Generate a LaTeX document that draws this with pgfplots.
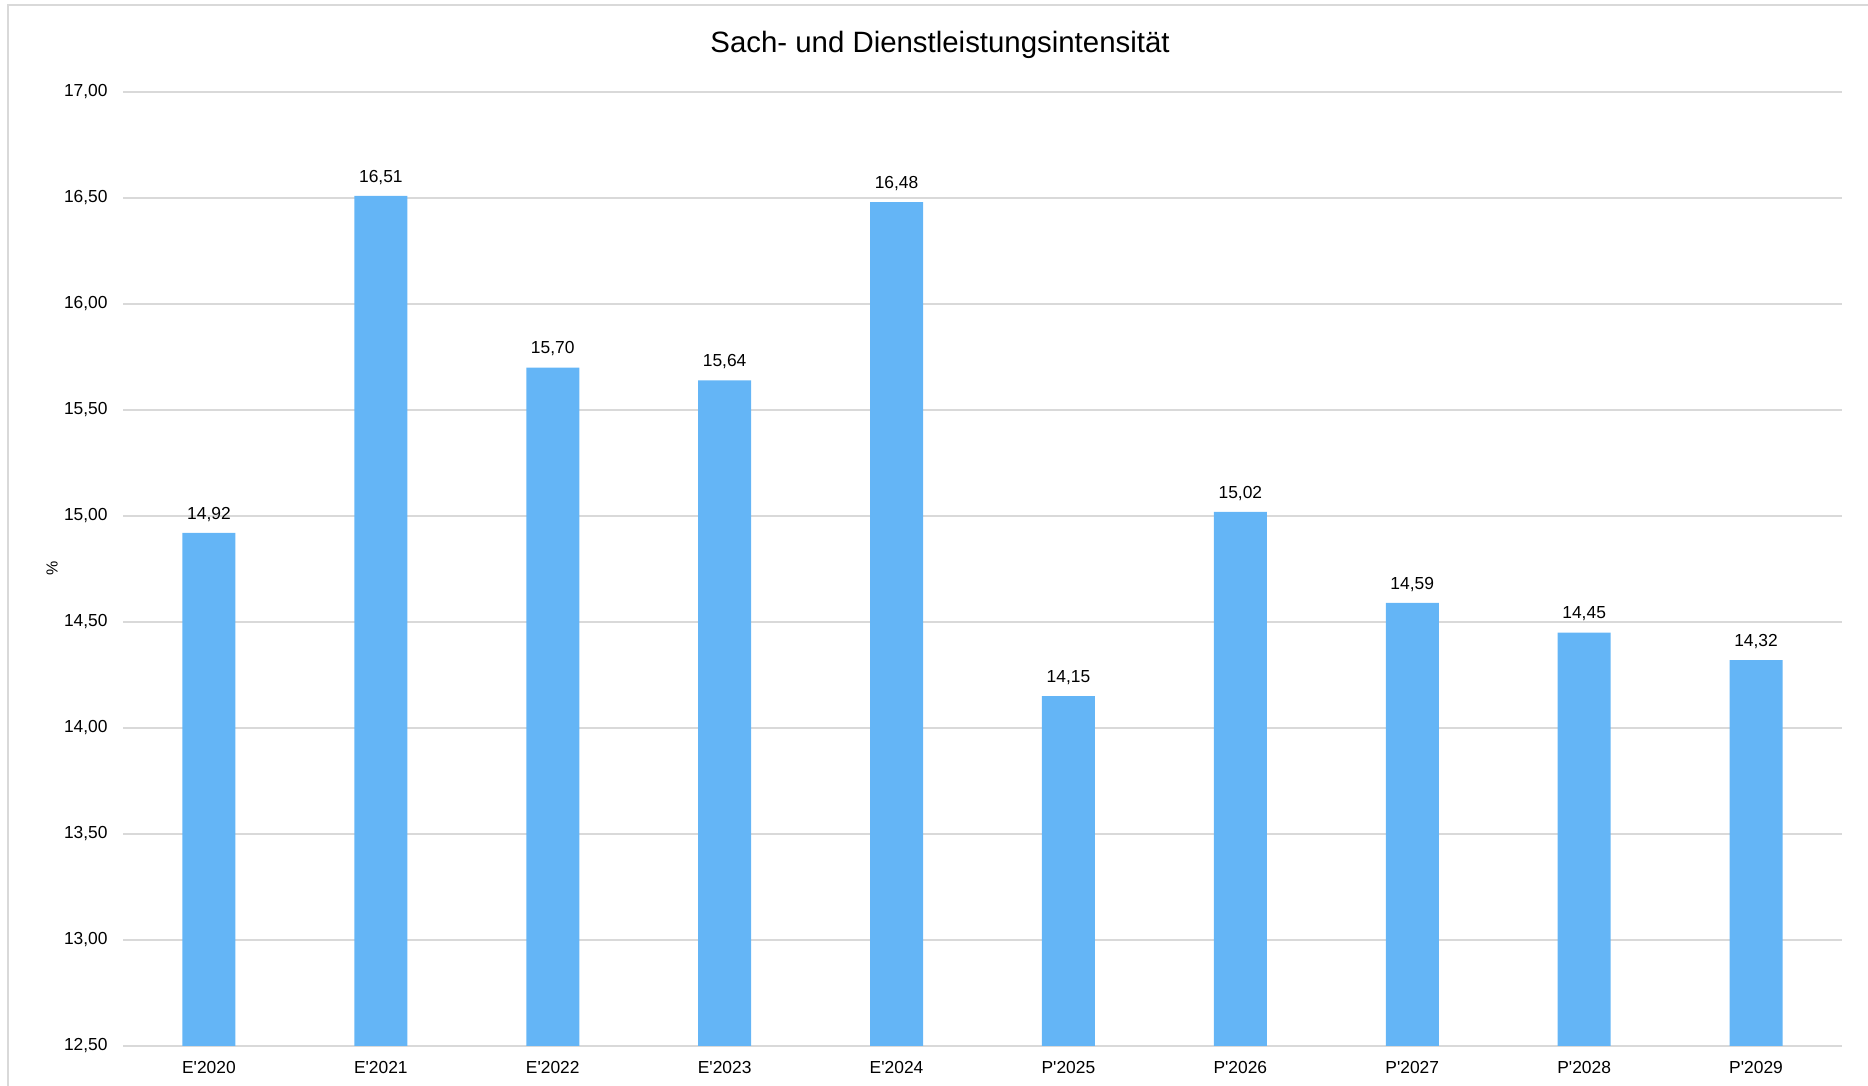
\documentclass[border=0pt]{standalone}
\usepackage{pgfplots}
\pgfplotsset{compat=1.18}
\usepackage{fontspec}
\setmainfont{Liberation Sans}[Ligatures=TeXOff]
\definecolor{barblue}{HTML}{64B5F6}
\definecolor{gridgray}{HTML}{D9D9D9}

\begin{document}
\begin{tikzpicture}[x=0.5pt,y=0.5pt]
\useasboundingbox (0,0) rectangle (1868,1086);
% outer frame (cropped on right and bottom)
\draw[gridgray, line width=1.2pt] (8,0) -- (8,1081) -- (1868,1081);
\node[font=\fontsize{14.7}{17}\selectfont] at (940,1041.5) {Sach- und Dienstleistungsintensität};
\node[font=\fontsize{8}{10}\selectfont, rotate=90] at (52,518) {\%};

\begin{axis}[
  at={(61.5pt,20pt)}, anchor=south west,
  scale only axis,
  width=859.5pt, height=477pt,
  xmin=-0.5, xmax=9.5,
  ymin=12.5, ymax=17,
  ytick={12.5,13,13.5,14,14.5,15,15.5,16,16.5,17},
  xtick={0,...,9},
  xticklabels={E'2020,E'2021,E'2022,E'2023,E'2024,P'2025,P'2026,P'2027,P'2028,P'2029},
  axis line style={draw=none},
  tick style={draw=none},
  ymajorgrids,
  grid style={gridgray, line width=0.7pt},
  /pgf/number format/assume math mode=true,
  yticklabel style={font=\fontsize{8.7}{11}\selectfont, inner sep=0pt, xshift=-7.5pt,
    /pgf/number format/.cd, fixed, fixed zerofill, precision=2, use comma},
  xticklabel style={font=\fontsize{8.7}{11}\selectfont, inner sep=0pt, yshift=-3pt},
  ybar, bar width=26.5pt, bar shift=0pt,
  nodes near coords,
  nodes near coords style={font=\fontsize{8.7}{11}\selectfont, inner sep=0pt, anchor=south, yshift=5.5pt,
    /pgf/number format/.cd, fixed, fixed zerofill, precision=2, use comma},
]
\addplot[fill=barblue, draw=none] coordinates {
(0,14.92) (1,16.51) (2,15.70) (3,15.64) (4,16.48)
(5,14.15) (6,15.02) (7,14.59) (8,14.45) (9,14.32)
};
\end{axis}
\end{tikzpicture}
\end{document}
